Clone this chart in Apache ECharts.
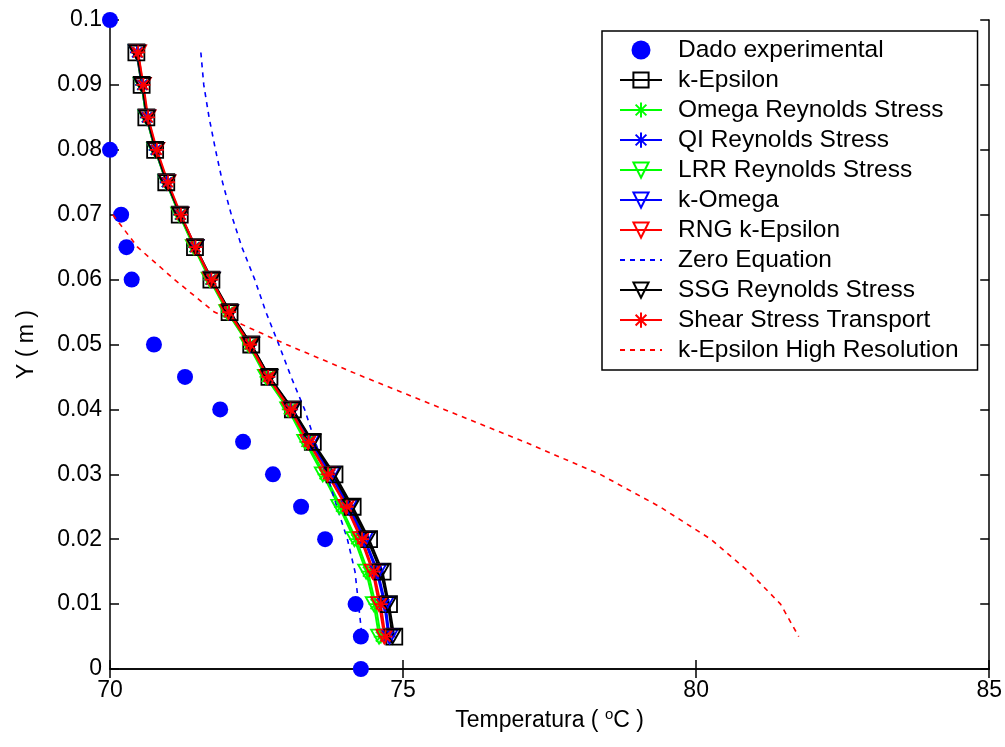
<!DOCTYPE html>
<html>
<head>
<meta charset="utf-8">
<script src="https://cdn.jsdelivr.net/npm/echarts@6/dist/echarts.min.js"></script>
<style>
html,body{margin:0;padding:0;background:#fff;}
#chart{width:1005px;height:747px;}
</style>
</head>
<body>
<div id="chart"></div>
<script>
// ---- data ----
var xTicks = [70, 75, 80, 85];
var yTicks = [0, 0.01, 0.02, 0.03, 0.04, 0.05, 0.06, 0.07, 0.08, 0.09, 0.1];

var expX = [70, 70, 70.19, 70.28, 70.37, 70.75, 71.28, 71.88, 72.27, 72.78, 73.26, 73.67, 74.19, 74.28, 74.28];
var expY = [0.1, 0.08, 0.07, 0.065, 0.06, 0.05, 0.045, 0.04, 0.035, 0.03, 0.025, 0.02, 0.01, 0.005, 0];

var modelY = [0.095, 0.09, 0.085, 0.08, 0.075, 0.07, 0.065, 0.06, 0.055, 0.05, 0.045, 0.04, 0.035, 0.03, 0.025, 0.02, 0.015, 0.01, 0.005];

var kEpsilon   = [70.45, 70.54, 70.62, 70.77, 70.96, 71.19, 71.45, 71.73, 72.04, 72.41, 72.72, 73.12, 73.46, 73.83, 74.14, 74.42, 74.65, 74.76, 74.85];
var omegaRS    = [70.47, 70.55, 70.63, 70.78, 70.97, 71.19, 71.44, 71.71, 72.01, 72.37, 72.67, 73.05, 73.35, 73.66, 73.94, 74.20, 74.40, 74.53, 74.62];
var qiRS       = [70.46, 70.55, 70.63, 70.78, 70.97, 71.20, 71.45, 71.72, 72.03, 72.39, 72.70, 73.09, 73.41, 73.76, 74.06, 74.33, 74.55, 74.68, 74.75];
var lrrRS      = [70.46, 70.54, 70.62, 70.77, 70.96, 71.18, 71.43, 71.70, 72.00, 72.36, 72.66, 73.04, 73.33, 73.63, 73.91, 74.17, 74.37, 74.50, 74.59];
var kOmega     = [70.46, 70.55, 70.63, 70.78, 70.97, 71.20, 71.46, 71.73, 72.04, 72.40, 72.71, 73.10, 73.43, 73.78, 74.08, 74.35, 74.57, 74.70, 74.77];
var rngKEps    = [70.48, 70.56, 70.64, 70.79, 70.98, 71.20, 71.45, 71.72, 72.02, 72.38, 72.69, 73.07, 73.38, 73.71, 74.03, 74.28, 74.48, 74.59, 74.68];
var ssgRS      = [70.46, 70.55, 70.63, 70.78, 70.97, 71.20, 71.46, 71.74, 72.05, 72.41, 72.72, 73.11, 73.45, 73.80, 74.11, 74.39, 74.62, 74.74, 74.82];
var sst        = [70.48, 70.57, 70.65, 70.80, 70.99, 71.21, 71.46, 71.73, 72.03, 72.39, 72.70, 73.08, 73.39, 73.72, 74.04, 74.30, 74.50, 74.62, 74.70];

var zeroY = [0.095, 0.09, 0.085, 0.08, 0.075, 0.07, 0.065, 0.06, 0.055, 0.05, 0.045, 0.04, 0.035, 0.03, 0.025, 0.02, 0.015, 0.01, 0.005];
var zeroX = [71.55, 71.60, 71.69, 71.80, 71.92, 72.07, 72.25, 72.47, 72.66, 72.88, 73.09, 73.32, 73.50, 73.70, 73.87, 74.05, 74.18, 74.24, 74.30];

var hrY = [0.07, 0.065, 0.06, 0.055, 0.05, 0.045, 0.04, 0.035, 0.03, 0.025, 0.02, 0.015, 0.01, 0.005];
var hrX = [70.05, 70.47, 71.10, 71.78, 73.01, 74.33, 75.70, 77.07, 78.36, 79.38, 80.25, 80.90, 81.44, 81.75];

var names = ['Dado experimental', 'k-Epsilon', 'Omega Reynolds Stress', 'QI Reynolds Stress', 'LRR Reynolds Stress',
  'k-Omega', 'RNG k-Epsilon', 'Zero Equation', 'SSG Reynolds Stress', 'Shear Stress Transport', 'k-Epsilon High Resolution'];

// ---- helpers ----
function pairs(xs, ys) { return xs.map(function (x, i) { return [x, ys[i]]; }); }
var STAR = 'path://M0,-10L0,10M-10,0L10,0M-7.07,-7.07L7.07,7.07M-7.07,7.07L7.07,-7.07';
var FONT = '"Liberation Sans", Arial, sans-serif';

function modelSeries(name, xs, color, marker) {
  var s = {
    name: name, type: 'line', data: pairs(xs, modelY), clip: false,
    lineStyle: { color: color, width: 2 },
    itemStyle: { color: 'rgba(0,0,0,0)', borderColor: color, borderWidth: 1.8 },
    showSymbol: true, emphasis: { disabled: true }
  };
  if (marker === 'square') { s.symbol = 'rect'; s.symbolSize = 16; }
  else if (marker === 'tri') { s.symbol = 'triangle'; s.symbolRotate = 180; s.symbolSize = [16, 14]; }
  else { s.symbol = STAR; s.symbolSize = 14; }
  return s;
}
function dashSeries(name, xs, ys, color) {
  return {
    name: name, type: 'line', data: pairs(xs, ys), clip: false, symbol: 'none',
    lineStyle: { color: color, width: 1.6, type: [5, 5] },
    itemStyle: { color: color }, emphasis: { disabled: true }
  };
}

var series = [
  { name: names[0], type: 'scatter', data: pairs(expX, expY), clip: false, symbol: 'circle', symbolSize: 16,
    itemStyle: { color: '#0000ff', opacity: 1 }, emphasis: { disabled: true } },
  modelSeries(names[1], kEpsilon, '#000000', 'square'),
  modelSeries(names[2], omegaRS, '#00ff00', 'star'),
  modelSeries(names[3], qiRS, '#0000ff', 'star'),
  modelSeries(names[4], lrrRS, '#00ff00', 'tri'),
  modelSeries(names[5], kOmega, '#0000ff', 'tri'),
  modelSeries(names[6], rngKEps, '#ff0000', 'tri'),
  dashSeries(names[7], zeroX, zeroY, '#0000ff'),
  modelSeries(names[8], ssgRS, '#000000', 'tri'),
  modelSeries(names[9], sst, '#ff0000', 'star'),
  dashSeries(names[10], hrX, hrY, '#ff0000')
];

var legendData = names.map(function (n) {
  if (n === 'Zero Equation' || n === 'k-Epsilon High Resolution') return { name: n, itemStyle: { opacity: 0 } };
  return { name: n };
});

var axisLineStyle = { color: '#000', width: 1.5 };
var tickCommon = { show: true, inside: true, length: 9, lineStyle: { color: '#000', width: 1.5 } };

var option = {
  animation: false,
  backgroundColor: '#fff',
  textStyle: { fontFamily: FONT },
  grid: { left: 110, right: 13, top: 20, bottom: 78, containLabel: false },
  legend: {
    orient: 'vertical', left: 602, top: 31,
    data: legendData,
    itemWidth: 42, itemHeight: 19, itemGap: 0.01,
    padding: [4, 19, 5, 17],
    borderColor: '#000', borderWidth: 1.5, backgroundColor: '#fff',
    textStyle: { fontSize: 24.5, color: '#000', fontFamily: FONT, lineHeight: 30, padding: [0, 0, 0, 11] },
    selectedMode: false
  },
  xAxis: [
    { type: 'value', min: 70, max: 85, interval: 5, position: 'bottom',
      axisLine: { show: true, lineStyle: axisLineStyle }, axisTick: tickCommon, splitLine: { show: false },
      axisLabel: { fontSize: 23, color: '#000', fontFamily: FONT, margin: 10,
        customValues: xTicks },
      name: 'Temperatura ( {sup|o}C )', nameLocation: 'middle', nameGap: 38,
      nameTextStyle: { fontSize: 23, color: '#000', fontFamily: FONT, lineHeight: 28,
        rich: { sup: { fontSize: 15, verticalAlign: 'top', lineHeight: 16, color: '#000', fontFamily: FONT } } } },
    { type: 'value', min: 70, max: 85, interval: 5, position: 'top',
      axisLine: { show: true, lineStyle: axisLineStyle }, axisTick: tickCommon, splitLine: { show: false },
      axisLabel: { show: false } }
  ],
  yAxis: [
    { type: 'value', min: 0, max: 0.1, interval: 0.01, position: 'left',
      axisLine: { show: true, lineStyle: axisLineStyle }, axisTick: tickCommon, splitLine: { show: false },
      axisLabel: { fontSize: 23, color: '#000', fontFamily: FONT, margin: 8 },
      name: 'Y ( m )', nameLocation: 'middle', nameGap: 72, nameRotate: 90,
      nameTextStyle: { fontSize: 23, color: '#000', fontFamily: FONT } },
    { type: 'value', min: 0, max: 0.1, interval: 0.01, position: 'right',
      axisLine: { show: true, lineStyle: axisLineStyle }, axisTick: tickCommon, splitLine: { show: false },
      axisLabel: { show: false } }
  ],
  series: series
};

var chart = echarts.init(document.getElementById('chart'), null, { renderer: 'canvas' });
chart.setOption(option);
</script>
</body>
</html>
